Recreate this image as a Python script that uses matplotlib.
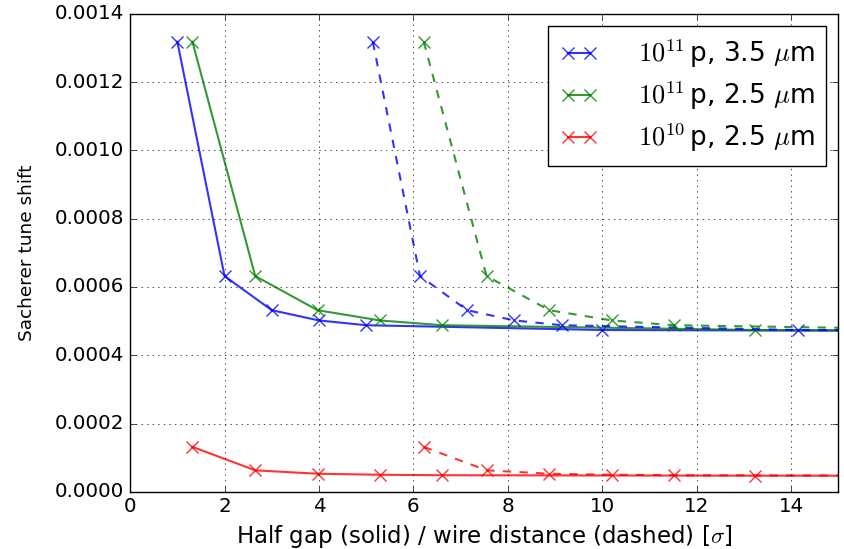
import matplotlib
matplotlib.use("Agg")
import matplotlib.pyplot as plt

plt.style.use("classic")

# Data
y_base = [0.001318, 0.000632, 0.000532, 0.000502, 0.000488, 0.000474, 0.000470]
y_low = [0.0001318, 0.0000632, 0.0000532, 0.0000502, 0.0000488, 0.0000474, 0.0000470]

x_blue_solid = [1.0, 2.0, 3.0, 4.0, 5.0, 10.0, 20.0]
x_blue_dashed = [5.14, 6.14, 7.14, 8.14, 9.14, 14.14, 24.14]
x_green_solid = [1.32, 2.65, 3.97, 5.29, 6.61, 13.23, 26.46]
x_green_dashed = [6.22, 7.55, 8.88, 10.2, 11.52, 18.1, 31.4]

labels = [r"$10^{11}\,$p, 3.5 $\mu$m", r"$10^{11}\,$p, 2.5 $\mu$m", r"$10^{10}\,$p, 2.5 $\mu$m"]

fig = plt.figure(figsize=(8.45, 5.49), dpi=100, facecolor="white")
ax = fig.add_axes([0.154, 0.104, 0.838, 0.871])

kw = dict(marker="x", markersize=8, markeredgewidth=1.0, linewidth=1.5, alpha=0.8)
ax.plot(x_blue_solid, y_base, "b-", label=labels[0], **kw)
ax.plot(x_green_solid, y_base, "g-", label=labels[1], **kw)
ax.plot(x_green_solid, y_low, "r-", label=labels[2], **kw)
ax.plot(x_blue_dashed, y_base, "b--", **kw)
ax.plot(x_green_dashed, y_base, "g--", **kw)
ax.plot(x_green_dashed, y_low, "r--", **kw)

ax.set_xlim(0, 15)
ax.set_ylim(0, 0.0014)
ax.set_xticks(range(0, 16, 2))
ax.set_yticks([i * 0.0002 for i in range(8)])
ax.set_yticklabels(["%.4f" % (i * 0.0002) for i in range(8)])
ax.tick_params(labelsize=14.3)
ax.grid(True)
ax.set_xlabel(r"Half gap (solid) / wire distance (dashed) [$\sigma$]", fontsize=16.5)
ax.set_ylabel("Sacherer tune shift", fontsize=13.3, labelpad=14)
ax.legend(loc="upper right", fontsize=19, numpoints=2, handlelength=1.45,
          handletextpad=1.5, borderpad=0.45, borderaxespad=0.45, labelspacing=0.35)

fig.savefig("out.png", dpi=100, facecolor="white")
